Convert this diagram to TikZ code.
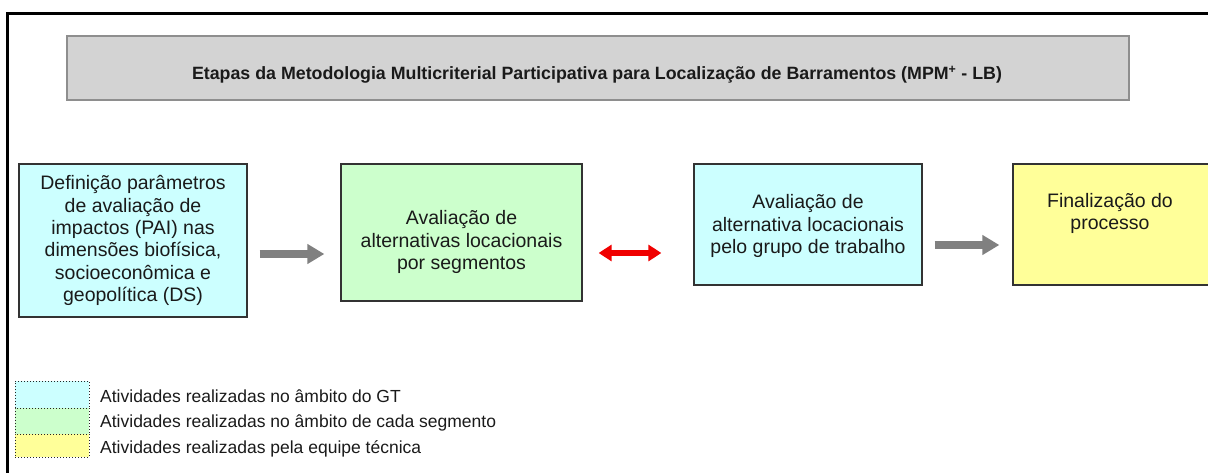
\documentclass[tikz,border=0pt]{standalone}
\usepackage{fontspec}
\setmainfont{Liberation Sans}
\usetikzlibrary{arrows.meta}
\definecolor{cyanfill}{HTML}{CCFFFF}
\definecolor{greenfill}{HTML}{CCFFCC}
\definecolor{yellowfill}{HTML}{FFFF99}
\definecolor{titlefill}{HTML}{D3D3D3}
\definecolor{titleedge}{HTML}{8E8E8E}
\definecolor{boxedge}{HTML}{333333}
\definecolor{txt}{HTML}{1A1A1A}
\definecolor{arrowgray}{HTML}{808080}
\definecolor{arrowred}{HTML}{F00000}
\tikzset{
  stagebox/.style={draw=boxedge, line width=1.3pt, inner sep=0pt},
  boxtext/.style={text=txt, align=center, inner sep=0pt, font=\fontsize{19.5}{22.3}\selectfont},
  titlebox/.style={draw=titleedge, fill=titlefill, line width=1.5pt, inner sep=0pt},
  grayarrow/.style={draw=arrowgray, line width=8pt, -{Triangle[length=17pt,width=19pt]}},
  redarrow/.style={draw=arrowred, line width=6pt, {Triangle[length=13pt,width=16pt]}-{Triangle[length=13pt,width=16pt]}},
  swatch/.style={draw=black!85, dotted, line width=1pt, inner sep=0pt},
  legendtext/.style={text=txt, anchor=base west, inner sep=0pt, font=\fontsize{17.5}{20}\selectfont},
}
\begin{document}
\begin{tikzpicture}[x=1pt,y=-1pt]
\useasboundingbox (0,0) rectangle (1208,473);
% frame
\draw[line width=2.5pt, black] (1215,13.3) -- (7.3,13.3) -- (7.3,480);
% title
\node[titlebox, minimum width=1062pt, minimum height=64pt] (title) at (598,68) {};
\node[anchor=base, inner sep=0pt, text=txt, font=\bfseries\fontsize{17.8}{20}\selectfont] (titletext) at (597,80)
  {Etapas da Metodologia Multicriterial Participativa para Localização de Barramentos (MPM\textsuperscript{+} - LB)};
% boxes
\node[stagebox, fill=cyanfill, minimum width=228pt, minimum height=153pt] (b1) at (133,240.5) {};
\node[boxtext] (t1) at (133,240.5) {Definição parâmetros\\de avaliação de\\impactos (PAI) nas\\dimensões biofísica,\\socioeconômica e\\geopolítica (DS)};
\node[stagebox, fill=greenfill, minimum width=241pt, minimum height=137pt] (b2) at (461.5,232.5) {};
\node[boxtext] (t2) at (461.5,242) {Avaliação de\\alternativas locacionais\\por segmentos};
\node[stagebox, fill=cyanfill, minimum width=228pt, minimum height=121pt] (b3) at (808,224.5) {};
\node[boxtext] (t3) at (808,226) {Avaliação de\\alternativa locacionais\\pelo grupo de trabalho};
\node[stagebox, fill=yellowfill, minimum width=197pt, minimum height=121pt] (b4) at (1111.5,224.5) {};
\node[boxtext] (t4) at (1110,213.5) {Finalização do\\processo};
% connectors
\draw[grayarrow, shorten <=12pt, shorten >=16pt] ([yshift=-13.5pt]b1.east) -- ([yshift=-21.5pt]b2.west);
\draw[redarrow, shorten <=16pt, shorten >=32pt] ([yshift=-20.5pt]b2.east) -- ([yshift=-28.5pt]b3.west);
\draw[grayarrow, shorten <=12pt, shorten >=13pt] ([yshift=-20.5pt]b3.east) -- ([yshift=-20.5pt]b4.west);
% legend
\node[swatch, fill=cyanfill, minimum width=74pt, minimum height=27pt] (l1) at (52,394.5) {};
\node[swatch, fill=greenfill, minimum width=74pt, minimum height=26pt] (l2) at (52,421) {};
\node[swatch, fill=yellowfill, minimum width=74pt, minimum height=23pt] (l3) at (52,445.5) {};
\node[legendtext] (lt1) at (100,402) {Atividades realizadas no âmbito do GT};
\node[legendtext] (lt2) at (100,427) {Atividades realizadas no âmbito de cada segmento};
\node[legendtext] (lt3) at (100,453) {Atividades realizadas pela equipe técnica};
\end{tikzpicture}
\end{document}
